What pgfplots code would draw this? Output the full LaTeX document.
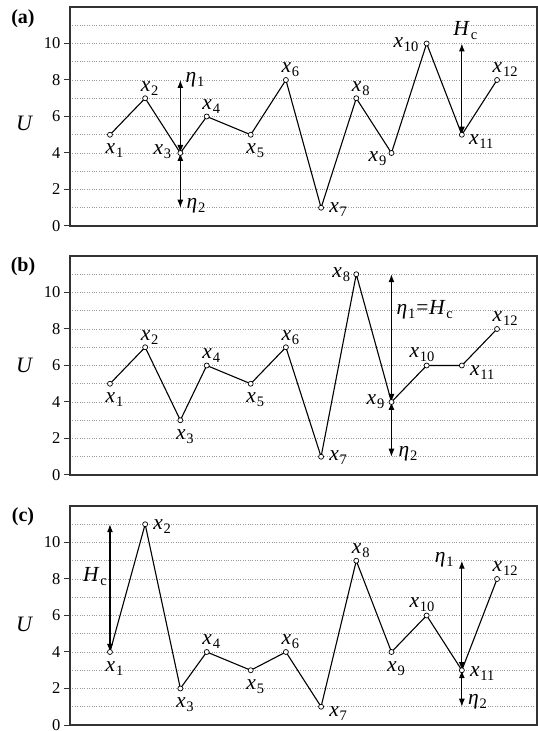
\documentclass[border=0pt]{standalone}
\usepackage{fontspec}
\setmainfont{Liberation Serif}
\usepackage{pgfplots}
\pgfplotsset{compat=1.18}
\usetikzlibrary{arrows.meta}

% subscripts set in text font, lowered
\newcommand{\sbs}[1]{\kern0.8bp\raisebox{-4bp}{\fontsize{14.5bp}{14bp}\selectfont #1}}
\newcommand{\xl}[1]{\textit{x}\sbs{#1}}
\newcommand{\et}[1]{\textit{η}\sbs{#1}}
\newcommand{\Hc}{\textit{H}\sbs{c}}

\pgfplotsset{
  panel/.style={
    scale only axis, width=467bp, height=219bp,
    xmin=-0.136, xmax=13.136, ymin=0, ymax=12,
    xtick=\empty, ytick={0,2,...,10}, minor ytick={1,3,...,11},
    ytick pos=left,
    ymajorgrids, yminorgrids,
    major grid style={gray!80, line width=0.65bp, dash pattern=on 0.8bp off 1.6bp},
    minor grid style={gray!80, line width=0.65bp, dash pattern=on 0.8bp off 1.6bp},
    axis line style={black!80, line width=1.2bp},
    tick align=outside, major tick length=6bp, minor tick length=0pt,
    ytick style={black!80, line width=1bp},
    tick label style={font=\fontsize{16.5bp}{18bp}\selectfont},
    /pgf/number format/assume math mode=true,
    clip=false,
  },
  curve/.style={black, line width=1.1bp, mark=*, mark size=2.5bp,
    mark options={fill=white, draw=black, line width=0.7bp}},
}
\tikzset{
  lab/.style={font=\fontsize{21.5bp}{24bp}\selectfont, inner sep=0pt},
  up/.style={lab, anchor=base west, xshift=-4.5bp, yshift=7bp},
  dn/.style={lab, anchor=base west, xshift=-4.5bp, yshift=-19bp},
  dbl/.style={line width=1.1bp, {Latex[length=8bp,width=6bp]}-{Latex[length=8bp,width=6bp]}},
  tag/.style={font=\bfseries\fontsize{20bp}{22bp}\selectfont, inner sep=0pt},
  ulab/.style={font=\itshape\fontsize{22bp}{24bp}\selectfont, inner sep=0pt},
}

\begin{document}
\begin{tikzpicture}
\path[use as bounding box] (0,0) rectangle (538bp,731bp);

% ---------- (a) ----------
\begin{axis}[panel, at={(70bp,505bp)}, anchor=south west]
\draw[dbl] (axis cs:3,4) -- (axis cs:3,8);
\draw[dbl] (axis cs:3,4) -- (axis cs:3,1);
\draw[dbl] (axis cs:11,5) -- (axis cs:11,10);
\addplot[curve] coordinates {(1,5) (2,7) (3,4) (3.75,6) (5,5) (6,8) (7,1) (8,7) (9,4) (10,10) (11,5) (12,8)};
\node[dn] at (axis cs:1,5) {\xl{1}};
\node[up] at (axis cs:2,7) {\xl{2}};
\node[lab, anchor=base east, xshift=-9bp, yshift=-2bp] at (axis cs:3,4) {\xl{3}};
\node[up] at (axis cs:3.75,6) {\xl{4}};
\node[dn] at (axis cs:5,5) {\xl{5}};
\node[up] at (axis cs:6,8) {\xl{6}};
\node[lab, anchor=base west, xshift=8bp, yshift=-5bp] at (axis cs:7,1) {\xl{7}};
\node[up] at (axis cs:8,7) {\xl{8}};
\node[lab, anchor=base east, xshift=-5bp, yshift=-9bp] at (axis cs:9,4) {\xl{9}};
\node[lab, anchor=base east, xshift=-8bp, yshift=-4bp] at (axis cs:10,10) {\xl{10}};
\node[lab, anchor=base west, xshift=7bp, yshift=-10bp] at (axis cs:11,5) {\xl{11}};
\node[up] at (axis cs:12,8) {\xl{12}};
\node[lab, anchor=base west, xshift=5bp, yshift=-3bp] at (axis cs:3,8) {\et{1}};
\node[lab, anchor=base west, xshift=6bp, yshift=-1bp] at (axis cs:3,1) {\et{2}};
\node[lab, anchor=base, xshift=3.5bp, yshift=8bp] at (axis cs:11,10) {\Hc};
\node[ulab] at (rel axis cs:0,0.47) [xshift=-46bp] {U};
\node[tag] at (rel axis cs:0,1) [xshift=-47bp, yshift=-12bp] {(a)};
\end{axis}

% ---------- (b) ----------
\begin{axis}[panel, at={(70bp,256bp)}, anchor=south west]
\draw[dbl] (axis cs:9,4) -- (axis cs:9,11);
\draw[dbl] (axis cs:9,4) -- (axis cs:9,1);
\addplot[curve] coordinates {(1,5) (2,7) (3,3) (3.75,6) (5,5) (6,7) (7,1) (8,11) (9,4) (10,6) (11,6) (12,8)};
\node[dn] at (axis cs:1,5) {\xl{1}};
\node[up] at (axis cs:2,7) {\xl{2}};
\node[dn] at (axis cs:3,3) {\xl{3}};
\node[up] at (axis cs:3.75,6) {\xl{4}};
\node[dn] at (axis cs:5,5) {\xl{5}};
\node[up] at (axis cs:6,7) {\xl{6}};
\node[lab, anchor=base west, xshift=8bp, yshift=-4bp] at (axis cs:7,1) {\xl{7}};
\node[lab, anchor=base east, xshift=-6bp, yshift=-3bp] at (axis cs:8,11) {\xl{8}};
\node[lab, anchor=base east, xshift=-7bp, yshift=-3bp] at (axis cs:9,4) {\xl{9}};
\node[lab, anchor=base east, xshift=8bp, yshift=8bp] at (axis cs:10,6) {\xl{10}};
\node[lab, anchor=base west, xshift=8bp, yshift=-10bp] at (axis cs:11,6) {\xl{11}};
\node[up] at (axis cs:12,8) {\xl{12}};
\node[lab, anchor=base west, xshift=5bp] at (axis cs:9,8.8) {\et{1}\kern1bp=\kern0.5bp\Hc};
\node[lab, anchor=base west, xshift=7bp] at (axis cs:9,1) {\et{2}};
\node[ulab] at (rel axis cs:0,0.5) [xshift=-46bp] {U};
\node[tag] at (rel axis cs:0,1) [xshift=-47bp, yshift=-11bp] {(b)};
\end{axis}

% ---------- (c) ----------
\begin{axis}[panel, at={(70bp,6bp)}, anchor=south west]
\draw[dbl] (axis cs:1,4) -- (axis cs:1,11);
\draw[dbl] (axis cs:11,3) -- (axis cs:11,9);
\draw[dbl] (axis cs:11,3) -- (axis cs:11,1);
\addplot[curve] coordinates {(1,4) (2,11) (3,2) (3.75,4) (5,3) (6,4) (7,1) (8,9) (9,4) (10,6) (11,3) (12,8)};
\node[dn] at (axis cs:1,4) {\xl{1}};
\node[lab, anchor=base west, xshift=8bp, yshift=-5bp] at (axis cs:2,11) {\xl{2}};
\node[dn] at (axis cs:3,2) {\xl{3}};
\node[up] at (axis cs:3.75,4) {\xl{4}};
\node[dn] at (axis cs:5,3) {\xl{5}};
\node[up] at (axis cs:6,4) {\xl{6}};
\node[lab, anchor=base west, xshift=8bp, yshift=-10bp] at (axis cs:7,1) {\xl{7}};
\node[up] at (axis cs:8,9) {\xl{8}};
\node[dn] at (axis cs:9,4) {\xl{9}};
\node[lab, anchor=base east, xshift=8bp, yshift=8bp] at (axis cs:10,6) {\xl{10}};
\node[lab, anchor=base west, xshift=8bp, yshift=-6bp] at (axis cs:11,3) {\xl{11}};
\node[up] at (axis cs:12,8) {\xl{12}};
\node[lab, anchor=base east, xshift=-3bp] at (axis cs:1,7.87) {\Hc};
\node[lab, anchor=base east, xshift=-8bp] at (axis cs:11,8.9) {\et{1}};
\node[lab, anchor=base west, xshift=6bp, yshift=2bp] at (axis cs:11,1) {\et{2}};
\node[ulab] at (rel axis cs:0,0.46) [xshift=-46bp] {U};
\node[tag] at (rel axis cs:0,1) [xshift=-47bp, yshift=-11bp] {(c)};
\end{axis}
\end{tikzpicture}
\end{document}
